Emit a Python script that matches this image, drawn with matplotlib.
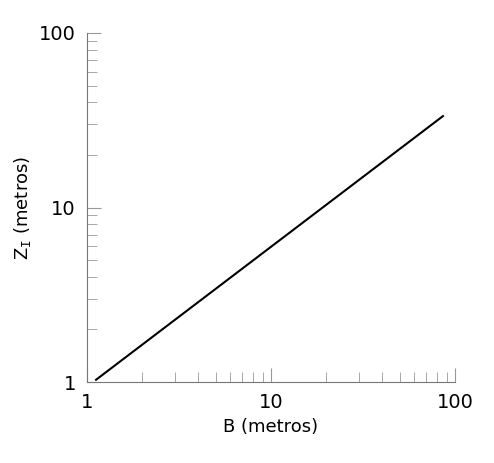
import matplotlib
matplotlib.use("Agg")
import matplotlib.pyplot as plt
from matplotlib.ticker import LogLocator, NullFormatter, FixedLocator, FixedFormatter

B = [1.12, 86.0]
Z = [1.03, 33.4]
ticks = [1, 10, 100]
labels = ["1", "10", "100"]

fig = plt.figure(figsize=(4.94, 4.63), dpi=100)
ax = fig.add_axes([87/494, 1-382/463, 368/494, 349/463])
ax.plot(B, Z, color="black", lw=1.5)
ax.set_xscale("log"); ax.set_yscale("log")
ax.set_xlim(1, 100); ax.set_ylim(1, 100)
for s in ["top", "right"]:
    ax.spines[s].set_visible(False)
for s in ["left", "bottom"]:
    ax.spines[s].set_color("#777777")
ax.xaxis.set_major_locator(FixedLocator(ticks)); ax.xaxis.set_major_formatter(FixedFormatter(labels))
ax.yaxis.set_major_locator(FixedLocator(ticks)); ax.yaxis.set_major_formatter(FixedFormatter(labels))
ax.xaxis.set_minor_locator(LogLocator(subs=range(2, 10))); ax.xaxis.set_minor_formatter(NullFormatter())
ax.yaxis.set_minor_locator(LogLocator(subs=range(2, 10))); ax.yaxis.set_minor_formatter(NullFormatter())
ax.tick_params(which="both", direction="in", color="#999999", labelsize=14, pad=8)
ax.tick_params(which="major", length=10)
ax.tick_params(which="minor", length=7)
ax.set_xlabel("B (metros)", fontsize=13)
ax.set_ylabel(r"Z$_\mathtt{I}$ (metros)", fontsize=13)
fig.savefig("out.png", dpi=100)
